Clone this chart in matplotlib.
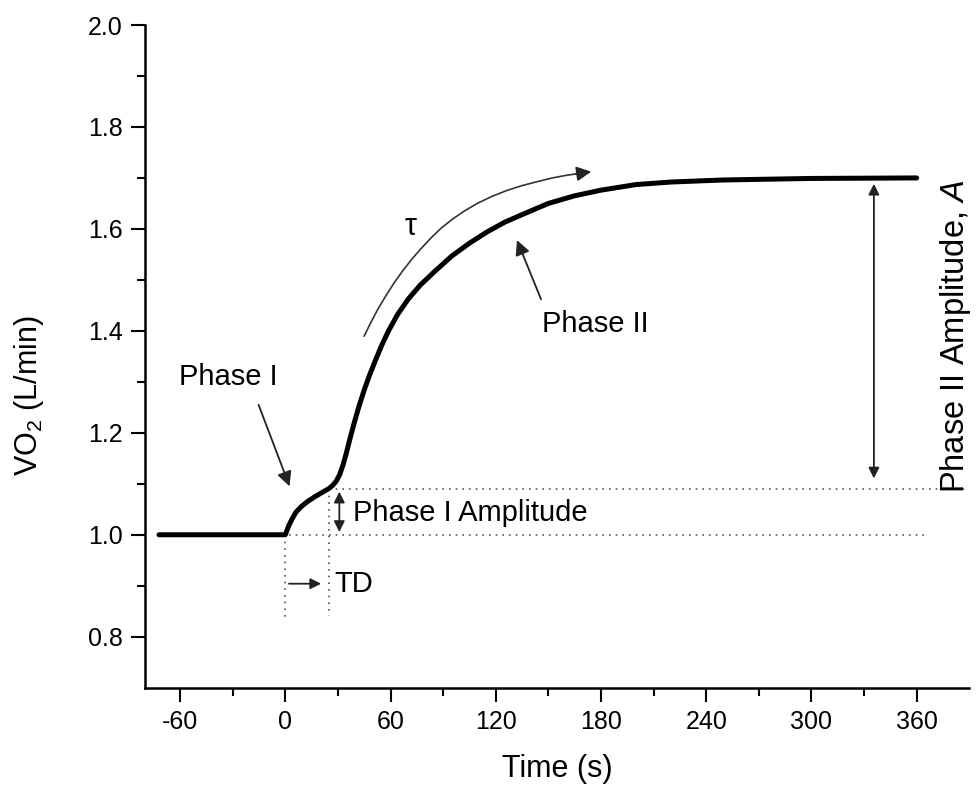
import numpy as np
import matplotlib
matplotlib.use('Agg')
import matplotlib.pyplot as plt

plt.rcParams['font.family'] = ['Liberation Sans', 'DejaVu Sans']
plt.rcParams['mathtext.fontset'] = 'custom'
plt.rcParams['mathtext.rm'] = 'Liberation Sans'
plt.rcParams['mathtext.it'] = 'Liberation Sans:italic'

# VO2 response (time in s, VO2 in L/min)
time_s = [-72, 0, 2, 4, 6, 9, 13, 17, 21, 25, 27, 29, 31, 33, 35, 37, 39.5, 42, 45, 48,
          51.5, 55, 59, 64, 70, 77, 85, 95, 105, 115, 125, 135, 150, 165, 180, 200,
          220, 250, 300, 360]
vo2 = [1.0, 1.0, 1.018, 1.032, 1.044, 1.055, 1.066, 1.075, 1.083, 1.091, 1.097, 1.105,
       1.118, 1.138, 1.163, 1.19, 1.222, 1.252, 1.284, 1.313, 1.343, 1.372, 1.401,
       1.432, 1.462, 1.49, 1.516, 1.547, 1.572, 1.594, 1.613, 1.628, 1.65, 1.665,
       1.676, 1.687, 1.692, 1.696, 1.699, 1.700]

# tau guide arc drawn above the curve
tau_t = [45, 49, 53, 57.4, 62, 67, 72, 77, 83, 89, 95.3, 102, 110, 118, 126, 135, 144,
         152.3, 160, 166]
tau_v = [1.39, 1.418, 1.444, 1.469, 1.494, 1.518, 1.54, 1.56, 1.582, 1.602, 1.619,
         1.635, 1.651, 1.664, 1.675, 1.685, 1.693, 1.70, 1.705, 1.708]

baseline = 1.0
phase1_end = 1.09
steady = 1.70
td = 25

xticks = [-60, 0, 60, 120, 180, 240, 300, 360]
yticks = [0.8, 1.0, 1.2, 1.4, 1.6, 1.8, 2.0]

fig = plt.figure(figsize=(9.76, 7.87), dpi=100)
ax = fig.add_axes([145/976, 1-687.7/787, (969.3-145)/976, (687.7-25)/787])

ax.plot(time_s, vo2, color='black', lw=3.6, solid_capstyle='round',
        solid_joinstyle='round', zorder=5)

# dotted guides
dot = dict(color='#555555', lw=1.2, ls=(0, (1, 3)))
ax.plot([2, 364], [baseline, baseline], **dot)
ax.plot([td, 390], [phase1_end, phase1_end], **dot)
ax.plot([0, 0], [baseline, 0.83], **dot)
ax.plot([td, td], [phase1_end, 0.84], **dot)

arr = dict(arrowstyle='-|>', color='#222222', lw=1.3, mutation_scale=22)
darr = dict(arrowstyle='<|-|>', color='#222222', lw=1.3, mutation_scale=16)

# tau arc + head
ax.plot(tau_t, tau_v, color='#333333', lw=1.2, solid_joinstyle='round')
ax.annotate('', xy=(176, 1.713), xytext=(164, 1.707), arrowprops=arr)
ax.text(71.6, 1.603, '\u03c4', fontsize=22, ha='center', va='center')

# Phase I label
ax.annotate('', xy=(3, 1.09), xytext=(-15.8, 1.26), arrowprops=arr)
ax.text(-32.5, 1.31, 'Phase I', fontsize=21, ha='center', va='center')

# Phase II label
ax.annotate('', xy=(131.5, 1.583), xytext=(146.4, 1.457), arrowprops=arr)
ax.text(146.4, 1.414, 'Phase II', fontsize=21, ha='left', va='center')

# Phase I amplitude
ax.annotate('', xy=(30.8, 1.0), xytext=(30.8, 1.09), arrowprops=darr)
ax.text(38.4, 1.042, 'Phase I Amplitude', fontsize=21, ha='left', va='center')

# TD
ax.annotate('', xy=(22, 0.904), xytext=(0.5, 0.904),
            arrowprops=dict(arrowstyle='-|>', color='#222222', lw=1.3, mutation_scale=16))
ax.text(27.9, 0.904, 'TD', fontsize=21, ha='left', va='center')

# Phase II amplitude
ax.annotate('', xy=(335.6, 1.694), xytext=(335.6, 1.105), arrowprops=darr)
ax.text(382, 1.39, 'Phase II Amplitude, $\\mathit{A}$', fontsize=23.5, rotation=90,
        ha='center', va='center')

ax.set_xlim(-80, 390)
ax.set_ylim(0.7, 2.0)
ax.set_xticks(xticks)
ax.set_xticklabels([str(v) for v in xticks])
ax.set_yticks(yticks)
ax.set_yticklabels(['%.1f' % v for v in yticks])
ax.set_xticks(np.arange(-60, 390, 30), minor=True)
ax.set_yticks(np.arange(0.8, 2.0, 0.1), minor=True)

for s in ['top', 'right']:
    ax.spines[s].set_visible(False)
for s in ['left', 'bottom']:
    ax.spines[s].set_linewidth(1.8)
ax.tick_params(which='major', direction='out', length=10, width=1.5, labelsize=18, pad=6)
ax.tick_params(which='minor', direction='out', length=6, width=1.5)

ax.set_xlabel('Time (s)', fontsize=22)
ax.xaxis.set_label_coords(0.5, -0.1)
ax.set_ylabel('VO$_2$ (L/min)', fontsize=22)
ax.yaxis.set_label_coords(-0.12, 0.44)

fig.savefig('out.png', dpi=100)
